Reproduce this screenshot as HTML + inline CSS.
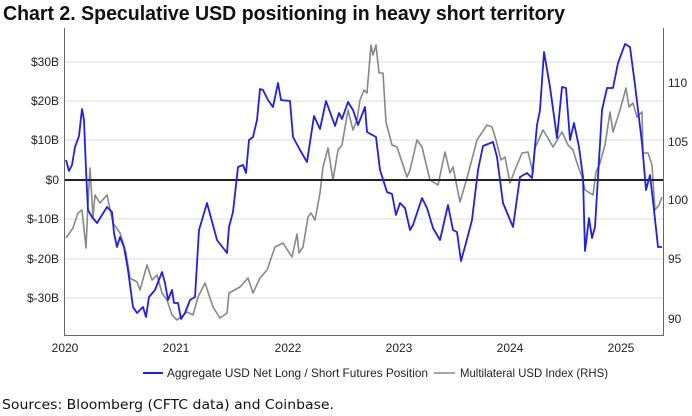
<!DOCTYPE html>
<html><head><meta charset="utf-8"><style>
html,body{margin:0;padding:0;background:#fff;width:692px;height:416px;overflow:hidden}
svg{display:block}
</style></head><body>
<svg width="692" height="416" viewBox="0 0 692 416" xmlns="http://www.w3.org/2000/svg" font-family="Liberation Sans, Arial, sans-serif">
<text x="3" y="20" font-size="20" font-weight="bold" fill="#111" textLength="562" lengthAdjust="spacingAndGlyphs">Chart 2. Speculative USD positioning in heavy short territory</text>
<g stroke="#dcdcdc" stroke-width="1">
<line x1="65" y1="62" x2="663" y2="62"/><line x1="65" y1="101" x2="663" y2="101"/><line x1="65" y1="140" x2="663" y2="140"/>
<line x1="65" y1="219" x2="663" y2="219"/><line x1="65" y1="259" x2="663" y2="259"/><line x1="65" y1="298" x2="663" y2="298"/>
</g>
<g stroke="#666" stroke-width="1" fill="none">
<line x1="64.5" y1="28" x2="64.5" y2="335"/><line x1="663.5" y1="28" x2="663.5" y2="335"/><line x1="64" y1="335.5" x2="664" y2="335.5"/>
</g>
<g font-size="12" fill="#222" text-anchor="end">
<text x="59" y="66">$30B</text><text x="59" y="105">$20B</text><text x="59" y="144">$10B</text><text x="59" y="184">$0</text>
<text x="59" y="223">$-10B</text><text x="59" y="263">$-20B</text><text x="59" y="302">$-30B</text>
</g>
<g font-size="12" fill="#222">
<text x="668" y="87">110</text><text x="668" y="146">105</text><text x="668" y="204">100</text><text x="668" y="263">95</text><text x="668" y="323">90</text>
</g>
<g font-size="12" fill="#222" text-anchor="middle">
<text x="65" y="352">2020</text><text x="176" y="352">2021</text><text x="288" y="352">2022</text><text x="399" y="352">2023</text><text x="510" y="352">2024</text><text x="621" y="352">2025</text>
</g>
<polyline fill="none" stroke="#888" stroke-width="1.6" stroke-linejoin="round" points="66,238 73,228 78,213 82,210 86,248 88,203 90,168 93,217 95,195 100,203 107,195 113,223 120,233 126,253 130,278 137,282 140,290 147,265 152,280 157,275 162,293 167,300 172,315 177,320 187,312 193,315 198,297 205,283 213,307 220,318 227,313 229,293 240,287 248,278 253,293 260,278 267,270 275,247 283,243 292,257 297,234 299,253 303,247 308,217 311,213 315,220 320,193 323,167 328,148 333,180 338,150 342,145 348,110 353,130 357,120 360,100 364,90 367,93 371,45 373,55 376,45 379,73 383,73 386,122 392,145 397,147 402,162 407,177 410,170 417,140 422,147 430,180 438,185 445,152 450,173 453,167 460,202 467,178 477,140 487,125 492,127 496,140 501,160 505,157 510,183 515,170 522,153 528,152 533,173 535,148 543,130 548,138 553,147 562,132 568,145 573,150 577,163 582,177 585,190 593,195 596,172 600,163 605,145 610,112 613,132 620,110 626,88 629,107 633,103 637,117 642,112 643,153 648,153 652,165 655,210 659,205 662,197"/>
<line x1="65" y1="180" x2="663" y2="180" stroke="#222" stroke-width="2"/>
<polyline fill="none" stroke="#1f1fe6" stroke-width="1.8" stroke-linejoin="round" points="66,160 69,171 72,165 75,147 79,136 82,109 84,120 86,170 88,210 92,217 97,223 107,207 112,212 114,233 117,247 120,237 124,247 128,270 133,307 137,313 143,307 146,317 149,297 155,290 162,272 165,283 168,300 172,290 174,303 178,303 181,319 185,313 190,300 195,297 199,230 207,203 217,240 227,253 229,227 233,212 238,167 243,165 246,173 249,140 253,137 257,120 260,89 263,90 268,100 273,107 278,83 281,100 290,101 293,137 300,150 307,162 314,116 320,129 326,101 335,126 339,113 342,119 348,102 353,110 358,125 365,107 367,132 376,137 380,170 387,192 392,194 396,215 400,203 405,208 410,230 413,225 422,198 427,208 433,228 440,240 443,227 448,205 453,230 457,232 461,261 466,243 472,220 478,170 483,146 493,142 497,157 503,203 513,227 520,177 527,173 532,178 537,125 540,110 544,52 550,87 557,138 562,87 566,88 570,140 574,123 579,147 583,177 585,251 589,218 592,238 595,227 602,110 607,88 613,88 618,63 625,44 630,47 635,85 642,143 646,190 650,175 654,210 658,247 662,247"/>
<line x1="143" y1="373" x2="163" y2="373" stroke="#1f1fe6" stroke-width="2"/>
<text x="167" y="377" font-size="12" fill="#222" textLength="261" lengthAdjust="spacingAndGlyphs">Aggregate USD Net Long / Short Futures Position</text>
<line x1="434" y1="373" x2="455" y2="373" stroke="#888" stroke-width="1.5"/>
<text x="460" y="377" font-size="12" fill="#222" textLength="148" lengthAdjust="spacingAndGlyphs">Multilateral USD Index (RHS)</text>
<text x="2" y="409" font-size="13" fill="#111" font-family="DejaVu Sans, sans-serif" textLength="332" lengthAdjust="spacingAndGlyphs">Sources: Bloomberg (CFTC data) and Coinbase.</text>
</svg>
</body></html>
